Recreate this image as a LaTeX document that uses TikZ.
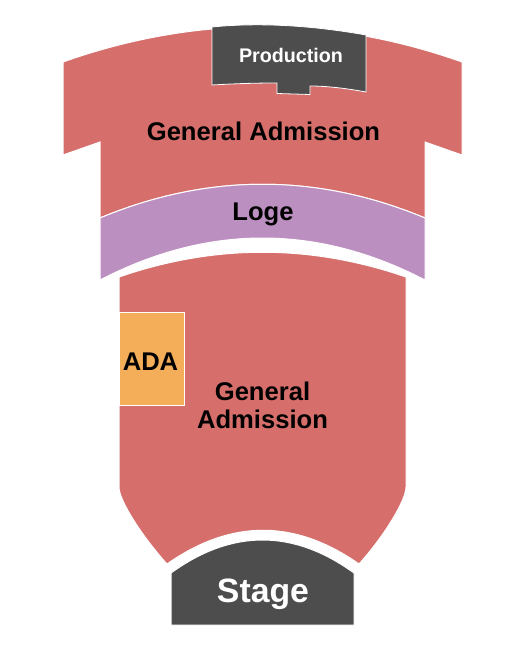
\documentclass[tikz,border=0pt]{standalone}
\usepackage{fontspec}
\setmainfont{Liberation Sans}
\definecolor{garea}{RGB}{214,110,108}
\definecolor{logearea}{RGB}{188,143,193}
\definecolor{adaarea}{RGB}{244,174,89}
\definecolor{darkarea}{RGB}{77,77,77}
\tikzset{
	area/.style={draw=white, line width=1pt},
	label/.style={anchor=base, font=\bfseries\fontsize{25.6}{28}\selectfont, align=center}
}
\begin{document}
\begin{tikzpicture}[x=1pt, y=-1pt]
\useasboundingbox (0, 0) rectangle (525, 650);

% upper general admission
\draw[area, fill=garea] (63, 62) .. controls (196, 15) and (329, 15) .. (462, 62) -- (462, 155) -- (425, 142) -- (425, 218)
	.. controls (317, 173) and (208, 173) .. (100, 218) -- (100, 142) -- (63, 155) -- cycle;

% production
\draw[area, fill=darkarea, line width=0.8pt] (212, 27) .. controls (262, 22) and (315, 26) .. (366, 35) -- (366, 92)
	.. controls (345, 88) and (325, 86) .. (310, 86) -- (310, 94.5) -- (277, 93.5) -- (277, 83)
	.. controls (250, 83) and (230, 84) .. (212, 85) -- cycle;

% loge
\draw[area, fill=logearea] (100, 218) .. controls (208, 173) and (317, 173) .. (425, 218) -- (425, 280)
	.. controls (317, 224) and (208, 224) .. (100, 280) -- cycle;

% lower general admission
\draw[area, fill=garea] (119, 277) .. controls (215, 244) and (310, 244) .. (406, 277) -- (406, 487)
	.. controls (406, 500) and (385, 535) .. (359, 564)
	.. controls (295, 519) and (231, 519) .. (167, 564)
	.. controls (141, 535) and (119, 500) .. (119, 487) -- cycle;

% ada
\draw[area, fill=adaarea, line width=0.8pt] (119, 312) rectangle (184, 405);

% stage
\draw[area, fill=darkarea] (171, 573) .. controls (232, 529) and (293, 529) .. (354, 573) -- (354, 625) -- (171, 625) -- cycle;

\node[label, text=white, font=\bfseries\fontsize{19.7}{22}\selectfont] (production) at (291, 63) {Production};
\node[label] (upperga) at (263.5, 140) {General Admission};
\node[label] (loge) at (263, 220) {Loge};
\node[label] (ada) at (150.5, 370) {ADA};
\node[label] (lowerga) at (262.5, 400) {General};
\node[label] (lowerga2) at (262.5, 428) {Admission};
\node[label, text=white, font=\bfseries\fontsize{33.8}{36}\selectfont] (stage) at (263, 602) {Stage};
\end{tikzpicture}
\end{document}
